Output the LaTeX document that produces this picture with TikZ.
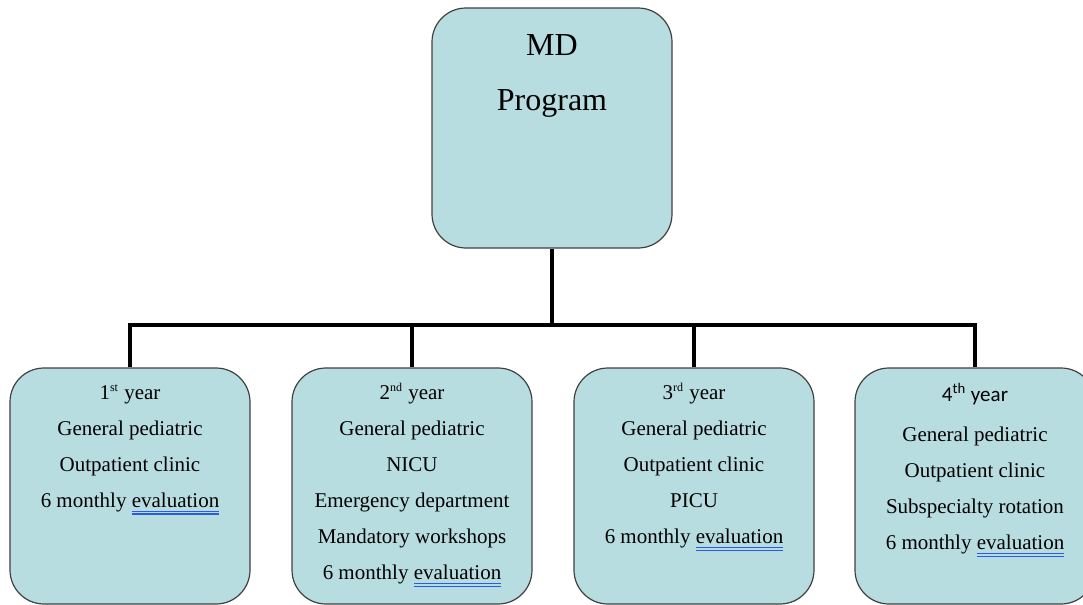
\documentclass[tikz,border=0pt]{standalone}
\usepackage{fontspec}
\setmainfont{Liberation Serif}
\newfontfamily\calibrifont{Carlito}
\usepackage{tikz}
\usetikzlibrary{positioning}
\definecolor{Boxfill}{RGB}{184,221,224}
\definecolor{Boxline}{RGB}{64,64,64}
\definecolor{Checkblue}{RGB}{40,90,235}
\newcommand{\evalword}{\setbox0\hbox{evaluation}%
  \rlap{\color{Checkblue}\rule[-2.2pt]{\wd0}{0.6pt}}%
  \rlap{\color{Checkblue}\rule[-3.5pt]{\wd0}{0.6pt}}\box0}
\newcommand{\ordsup}[1]{\textsuperscript{\fontsize{6}{6}\selectfont #1}}
\newcommand{\yearlines}[1]{\parbox[c][112pt][t]{116pt}{\centering
  \fontsize{10.5}{18}\selectfont\vspace*{4.8pt}\rule{0pt}{8pt}#1}}

\begin{document}
\begin{tikzpicture}[
  x=0.5pt, y=-0.5pt,
  mdbox/.style={rectangle, rounded corners=17pt,
                draw=Boxline, fill=Boxfill, line width=0.6pt,
                minimum width=120pt, minimum height=120pt,
                inner sep=0pt},
  yearbox/.style={rectangle, rounded corners=17pt,
                  draw=Boxline, fill=Boxfill, line width=0.6pt,
                  minimum width=120pt, minimum height=118pt,
                  inner sep=2pt},
  link/.style={line width=2pt, black}
]
\useasboundingbox (0,0) rectangle (1083,605);

%% --- TOP BOX ---
\node[mdbox] (md) at (552, 128)
  {\parbox[c][116pt][t]{116pt}{\centering\fontsize{16}{27.5}\selectfont
   \vspace*{11.5pt}MD\\Program}};

%% --- YEAR BOXES ---
\node[yearbox] (year1) at (130, 486)
  {\yearlines{1\ordsup{st} year\\General pediatric\\Outpatient clinic\\
   6 monthly \evalword}};

\node[yearbox] (year2) at (412, 486)
  {\yearlines{2\ordsup{nd} year\\General pediatric\\NICU\\
   Emergency department\\Mandatory workshops\\6 monthly \evalword}};

\node[yearbox] (year3) at (694, 486)
  {\yearlines{3\ordsup{rd} year\\General pediatric\\Outpatient clinic\\
   PICU\\6 monthly \evalword}};

\node[yearbox] (year4) at (975, 486)
  {\yearlines{\vspace*{1pt}{\calibrifont 4\textsuperscript{th} year}\\[1pt]General pediatric\\
   Outpatient clinic\\Subspecialty rotation\\6 monthly \evalword}};

%% --- CONNECTORS ---
\coordinate (bus) at (552, 325);
\draw[link] (md.south) -- (bus);
\draw[link] (bus) -| (year1.north);
\draw[link] (bus) -| (year2.north);
\draw[link] (bus) -| (year3.north);
\draw[link] (bus) -| (year4.north);

\end{tikzpicture}
\end{document}
